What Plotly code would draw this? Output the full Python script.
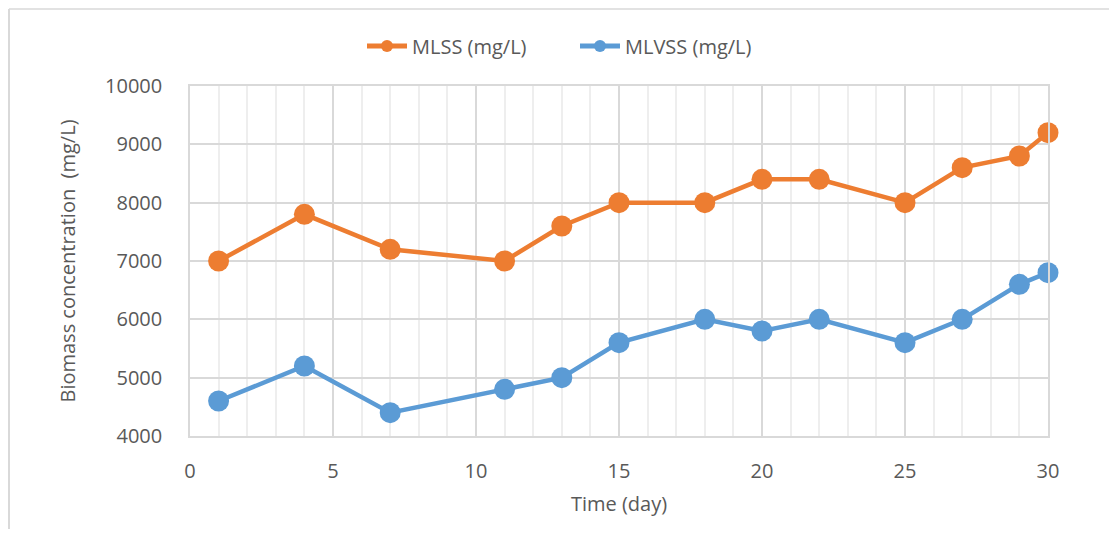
import plotly.graph_objects as go

days = [1, 4, 7, 11, 13, 15, 18, 20, 22, 25, 27, 29, 30]
mlss = [7000, 7800, 7200, 7000, 7600, 8000, 8000, 8400, 8400, 8000, 8600, 8800, 9200]
mlvss = [4600, 5200, 4400, 4800, 5000, 5600, 6000, 5800, 6000, 5600, 6000, 6600, 6800]

FONT = "Open Sans"
GREY = "#595959"
FS = 20
OFF = 8  # page body margin

fig = go.Figure()
fig.add_trace(go.Scatter(x=days, y=mlss, mode="lines+markers", name="MLSS (mg/L)",
                         line=dict(color="#ED7D31", width=4.5), cliponaxis=False,
                         marker=dict(size=21, color="#ED7D31")))
fig.add_trace(go.Scatter(x=days, y=mlvss, mode="lines+markers", name="MLVSS (mg/L)",
                         line=dict(color="#5B9BD5", width=4.5), cliponaxis=False,
                         marker=dict(size=21, color="#5B9BD5")))

W, H = 1117 - 2 * OFF, 537 - 2 * OFF
L, T = 190 - OFF, 86 - OFF
R = W - (1048 - OFF)
B = H - (436 - OFF)
PW, PH = 858, 350
fig.update_layout(
    width=W, height=H,
    margin=dict(l=L, r=R, t=T, b=B),
    paper_bgcolor="white", plot_bgcolor="white",
    font=dict(family=FONT, color=GREY, size=FS),
    legend=dict(orientation="h", x=(362 - 190) / PW, xanchor="left", y=(436 - 46) / PH, yanchor="middle",
                font=dict(size=FS, color=GREY), itemwidth=40, entrywidth=158, entrywidthmode="pixels",
                itemsizing="constant"),
    xaxis=dict(range=[0, 30], tick0=0, dtick=5, showgrid=True, gridcolor="#D9D9D9", gridwidth=1.5,
               minor=dict(dtick=1, showgrid=True, gridcolor="#EEEEEE", gridwidth=1.5),
               showline=True, linecolor="#D9D9D9", linewidth=1.5, mirror=True, zeroline=False,
               ticks="", ticklabelstandoff=16,
               title=dict(text="Time (day)", font=dict(size=FS, color=GREY), standoff=14)),
    yaxis=dict(range=[4000, 10000], dtick=1000, tickformat="d", showgrid=True, gridcolor="#D9D9D9",
               gridwidth=1.5, showline=True, linecolor="#D9D9D9", linewidth=1.5, mirror=True,
               zeroline=False, ticks="", ticklabelstandoff=22,
               title=dict(text="Biomass concentration  (mg/L)", font=dict(size=FS, color=GREY), standoff=24)),
    shapes=[
        dict(type="line", xref="paper", yref="paper",
             x0=(9 - 190) / PW, x1=(9 - 190) / PW, y0=(436 - 545) / PH, y1=(436 - 9) / PH,
             line=dict(color="#D9D9D9", width=2)),
        dict(type="line", xref="paper", yref="paper",
             x0=(9 - 190) / PW, x1=(1125 - 190) / PW, y0=(436 - 9) / PH, y1=(436 - 9) / PH,
             line=dict(color="#D9D9D9", width=1.5)),
    ],
)
fig.write_html("out.html")
